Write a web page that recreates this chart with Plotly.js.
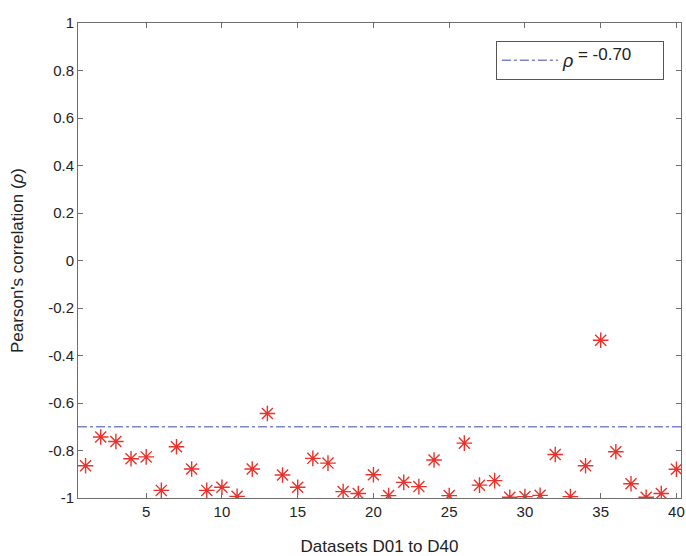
<!DOCTYPE html>
<html>
<head>
<meta charset="utf-8">
<script src="https://cdn.plot.ly/plotly-3.0.1.min.js"></script>
<style>html,body{margin:0;padding:0;background:#fff;}#chart{width:686px;height:556px;}</style>
</head>
<body>
<div id="chart"></div>
<script>
const datasets = [1,2,3,4,5,6,7,8,9,10,11,12,13,14,15,16,17,18,19,20,21,22,23,24,25,26,27,28,29,30,31,32,33,34,35,36,37,38,39,40];
const rhoValues = [-0.864,-0.743,-0.762,-0.835,-0.827,-0.968,-0.784,-0.878,-0.968,-0.955,
                   -0.993,-0.878,-0.644,-0.903,-0.955,-0.833,-0.853,-0.973,-0.981,-0.902,
                   -0.990,-0.934,-0.952,-0.840,-0.990,-0.769,-0.946,-0.927,-0.997,-0.994,
                   -0.989,-0.817,-0.994,-0.864,-0.336,-0.805,-0.940,-0.997,-0.981,-0.879];
const thresholdX = [0.5, 40.3];
const thresholdY = [-0.70, -0.70];
const xTickVals = [5,10,15,20,25,30,35,40];
const xTickText = ['5','10','15','20','25','30','35','40'];
const yTickVals = [1,0.8,0.6,0.4,0.2,0,-0.2,-0.4,-0.6,-0.8,-1];
const yTickText = ['1','0.8','0.6','0.4','0.2','0','-0.2','-0.4','-0.6','-0.8','-1'];

const font = 'Liberation Sans, Arial, sans-serif';
const axisCommon = {
  showgrid:false, zeroline:false, showline:true, linecolor:'#6e6e6e', linewidth:1,
  mirror:'ticks', ticks:'inside', ticklen:5, tickcolor:'#6e6e6e',
  tickfont:{family:font, size:15, color:'#222'}
};

const legendName = '<i>ρ</i><sup><span style="font-size:17px"> = -0.70</span></sup>\u00a0\u00a0\u00a0\u00a0\u00a0';

const traces = [
  {x: thresholdX, y: thresholdY, mode:'lines', name: legendName,
   line:{color:'#7b84c6', width:1.3, dash:'dashdot'}, hoverinfo:'skip'},
  {x: datasets, y: rhoValues, mode:'markers', showlegend:false,
   marker:{symbol:'asterisk-open', size:13, color:'#e8322c', line:{color:'#e8322c', width:1.4}}}
];

const layout = {
  width:686, height:556,
  margin:{l:78, r:5, t:23, b:58},
  paper_bgcolor:'#fff', plot_bgcolor:'#fff',
  font:{family:font, color:'#222'},
  xaxis: Object.assign({}, axisCommon, {
    range:[0.5, 40.3], tickvals:xTickVals, ticktext:xTickText,
    title:{text:'Datasets D01 to D40', font:{family:font, size:17, color:'#222'}, standoff:21}
  }),
  yaxis: Object.assign({}, axisCommon, {
    range:[-1, 1], tickvals:yTickVals, ticktext:yTickText,
    title:{text:"Pearson's correlation (<i>ρ</i>)", font:{family:font, size:17, color:'#222'}, standoff:20}
  }),
  legend:{
    x:0.693, y:0.962, xanchor:'left', yanchor:'top',
    bgcolor:'#fff', bordercolor:'#555', borderwidth:1,
    font:{family:font, size:18, color:'#222'},
    itemwidth:56
  }
};

Plotly.newPlot('chart', traces, layout, {staticPlot:true, displayModeBar:false});
</script>
</body>
</html>
